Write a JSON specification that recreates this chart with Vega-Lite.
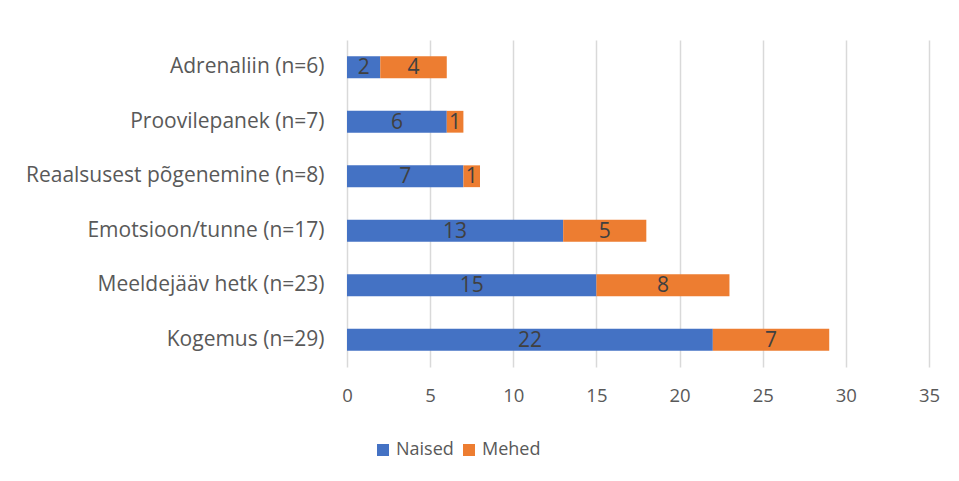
{
  "$schema": "https://vega.github.io/schema/vega-lite/v6.json",
  "width": 582,
  "height": 327,
  "autosize": {"type": "none"},
  "padding": {"left": 347, "top": 40, "right": 30, "bottom": 114},
  "background": "white",
  "config": {
    "view": {"stroke": null},
    "font": "Open Sans",
    "axis": {"labelFont": "Open Sans", "labelColor": "#595959", "labelLimit": 400}
  },
  "data": {
    "values": [
      {"cat": "Adrenaliin (n=6)", "sex": "Naised", "o": 1, "v": 2},
      {"cat": "Adrenaliin (n=6)", "sex": "Mehed", "o": 2, "v": 4},
      {"cat": "Proovilepanek (n=7)", "sex": "Naised", "o": 1, "v": 6},
      {"cat": "Proovilepanek (n=7)", "sex": "Mehed", "o": 2, "v": 1},
      {"cat": "Reaalsusest põgenemine (n=8)", "sex": "Naised", "o": 1, "v": 7},
      {"cat": "Reaalsusest põgenemine (n=8)", "sex": "Mehed", "o": 2, "v": 1},
      {"cat": "Emotsioon/tunne (n=17)", "sex": "Naised", "o": 1, "v": 13},
      {"cat": "Emotsioon/tunne (n=17)", "sex": "Mehed", "o": 2, "v": 5},
      {"cat": "Meeldejääv hetk (n=23)", "sex": "Naised", "o": 1, "v": 15},
      {"cat": "Meeldejääv hetk (n=23)", "sex": "Mehed", "o": 2, "v": 8},
      {"cat": "Kogemus (n=29)", "sex": "Naised", "o": 1, "v": 22},
      {"cat": "Kogemus (n=29)", "sex": "Mehed", "o": 2, "v": 7}
    ]
  },
  "transform": [
    {"stack": "v", "groupby": ["cat"], "sort": [{"field": "o"}], "as": ["v0", "v1"]},
    {"calculate": "(datum.v0 + datum.v1) / 2", "as": "mid"}
  ],
  "encoding": {
    "y": {
      "field": "cat",
      "type": "nominal",
      "sort": null,
      "title": null,
      "scale": {"paddingInner": 0.6, "paddingOuter": 0.3},
      "axis": {"ticks": false, "domain": false, "labelPadding": 23, "grid": false, "labelFontSize": 21}
    }
  },
  "layer": [
    {
      "mark": {"type": "bar"},
      "encoding": {
        "x": {
          "field": "v0",
          "type": "quantitative",
          "title": null,
          "scale": {"domain": [0, 35], "nice": false},
          "axis": {
            "values": [0, 5, 10, 15, 20, 25, 30, 35],
            "grid": true,
            "gridColor": "#d9d9d9",
            "gridWidth": 1.5,
            "ticks": false,
            "domain": false,
            "labelFlush": false,
            "labelFontSize": 18.5,
            "labelPadding": 19
          }
        },
        "x2": {"field": "v1"},
        "color": {
          "field": "sex",
          "type": "nominal",
          "scale": {"domain": ["Naised", "Mehed"], "range": ["#4472C4", "#ED7D31"]},
          "legend": {
            "title": null,
            "orient": "none",
            "direction": "horizontal",
            "legendX": 27,
            "legendY": 401,
            "symbolType": "square",
            "symbolSize": 144,
            "symbolStrokeWidth": 0,
            "labelFont": "Open Sans",
            "labelFontSize": 18,
            "labelColor": "#595959",
            "labelOffset": 4,
            "columnPadding": 6
          }
        },
        "order": {"field": "o"}
      }
    },
    {
      "mark": {"type": "text", "fontSize": 21, "color": "#404040", "font": "Open Sans", "baseline": "middle", "dy": 1},
      "encoding": {
        "x": {"field": "mid", "type": "quantitative"},
        "text": {"field": "v", "type": "quantitative"}
      }
    }
  ]
}
